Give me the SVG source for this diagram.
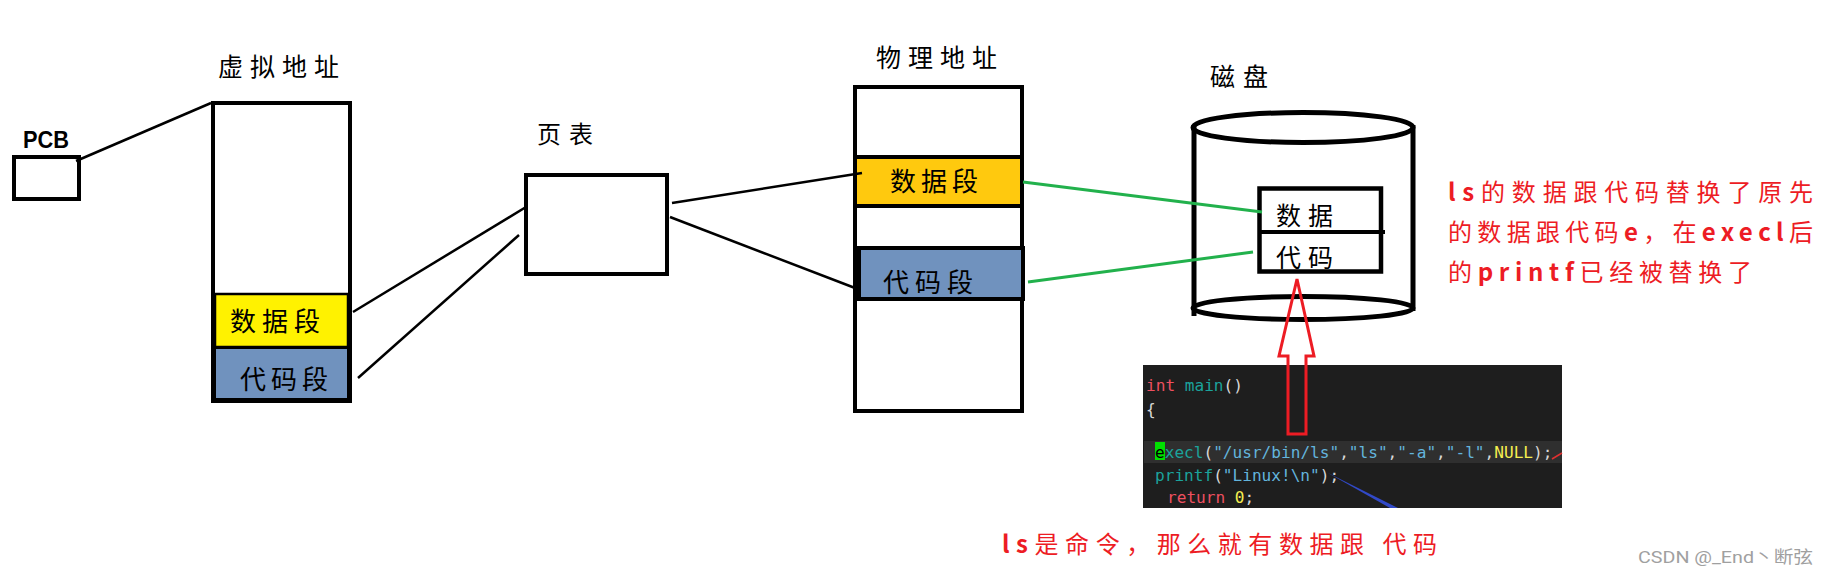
<svg xmlns="http://www.w3.org/2000/svg" width="1828" height="575" viewBox="0 0 1828 575">
<style>
.box{fill:#fff;stroke:#000;stroke-width:4}
.lbl{font-family:"Noto Sans CJK SC","Noto Sans CJK JP",sans-serif;font-size:25px;fill:#000}
.conn{stroke:#000;stroke-width:2.5;fill:none}
.green{stroke:#22B14C;stroke-width:3;fill:none}
.red{font-family:"Noto Sans CJK SC","Noto Sans CJK JP",sans-serif;font-size:24px;fill:#ED1C24}
.code{font-family:"DejaVu Sans Mono",monospace;font-size:16.1px;fill:#D8D8D8}
.kw{fill:#EE5060}.fn{fill:#1BA39C}.str{fill:#63B4DC}.num{fill:#F5EE50}
</style>
<rect width="1828" height="575" fill="#fff"/>

<g id="pcb">
<text x="23" y="148" style="font-family:'Liberation Sans',sans-serif;font-weight:bold;font-size:24px" textLength="46" lengthAdjust="spacingAndGlyphs">PCB</text>
<rect class="box" x="14" y="157" width="65" height="42"/>
</g>

<g id="virtual">
<text class="lbl" x="218" y="76" letter-spacing="7">虚拟地址</text>
<rect class="box" x="213" y="103" width="137" height="298"/>
<rect x="215" y="294" width="133" height="53" fill="#FFF200" stroke="#000" stroke-width="2.5"/>
<rect x="215" y="348" width="133" height="51" fill="#7092BE" stroke="#000" stroke-width="2"/>
<rect x="213" y="103" width="137" height="298" fill="none" stroke="#000" stroke-width="4"/>
<text class="lbl" x="230" y="331" style="font-size:26px" letter-spacing="6">数据段</text>
<text class="lbl" x="240" y="389" style="font-size:26px" letter-spacing="5">代码段</text>
</g>

<g id="pagetable">
<text class="lbl" x="537" y="143" style="font-size:24px" letter-spacing="8">页表</text>
<rect class="box" x="526" y="175" width="141" height="99"/>
</g>

<g id="physical">
<text class="lbl" x="876" y="67" letter-spacing="7">物理地址</text>
<rect class="box" x="855" y="87" width="167" height="324"/>
<rect x="855" y="157" width="167" height="49" fill="#FFC90E" stroke="#000" stroke-width="4"/>
<rect x="859" y="248" width="164" height="51" fill="#7092BE" stroke="#000" stroke-width="4"/>
<text class="lbl" x="890" y="191" style="font-size:26px" letter-spacing="5">数据段</text>
<text class="lbl" x="883" y="292" style="font-size:26px" letter-spacing="6">代码段</text>
</g>

<g id="disk">
<text class="lbl" x="1210" y="86" letter-spacing="8">磁盘</text>
<g fill="none" stroke="#000" stroke-width="5">
<ellipse cx="1303" cy="127.5" rx="110" ry="15"/>
<line x1="1194" y1="125" x2="1194" y2="316"/>
<line x1="1413" y1="125" x2="1413" y2="311"/>
<ellipse cx="1303" cy="308" rx="110" ry="11.5"/>
</g>
<rect x="1259.5" y="188.5" width="121.5" height="83" fill="#fff" stroke="#000" stroke-width="4.5"/>
<line x1="1259" y1="232" x2="1385" y2="232" stroke="#000" stroke-width="4"/>
<text class="lbl" x="1276" y="225" letter-spacing="7">数据</text>
<text class="lbl" x="1276" y="267" letter-spacing="7">代码</text>
</g>

<g id="connectors">
<line class="conn" x1="76" y1="161" x2="211" y2="103"/>
<line class="conn" x1="353" y1="312" x2="526" y2="207"/>
<line class="conn" x1="358" y1="378" x2="519" y2="235"/>
<line class="conn" x1="672" y1="203" x2="862" y2="173"/>
<line class="conn" x1="670" y1="217" x2="855" y2="288"/>
<line class="green" x1="1023" y1="182" x2="1262" y2="212"/>
<line class="green" x1="1028" y1="282" x2="1253" y2="252"/>
</g>

<g id="code">
<rect x="1143" y="365" width="419" height="143" fill="#1E1E1E"/>
<rect x="1144" y="441" width="418" height="22" fill="#2F2F2F"/>
<rect x="1155" y="442" width="10" height="18" fill="#00E000"/>
<text class="code" x="1146" y="391"><tspan class="kw">int</tspan> <tspan class="fn">main</tspan>()</text>
<text class="code" x="1146" y="415">{</text>
<text class="code" x="1155" y="458"><tspan style="fill:#000">e</tspan><tspan class="fn">xecl</tspan>(<tspan class="str">"/usr/bin/ls"</tspan>,<tspan class="str">"ls"</tspan>,<tspan class="str">"-a"</tspan>,<tspan class="str">"-l"</tspan>,<tspan class="num">NULL</tspan>);</text>
<text class="code" x="1155" y="481"><tspan class="fn">printf</tspan>(<tspan class="str">"Linux!\n"</tspan>);</text>
<text class="code" x="1167" y="503"><tspan class="kw">return</tspan> <tspan class="num">0</tspan>;</text>
<line x1="1552" y1="459" x2="1562" y2="453" stroke="#E03030" stroke-width="1.5"/>
<polygon points="1327,472.5 1329,473.5 1398,508 1390,508" fill="#3149C8"/>
</g>

<g id="arrow">
<polygon points="1297,279 1314,356 1306,356 1306,434 1288,434 1288,356 1279,356" fill="none" stroke="#ED1C24" stroke-width="3" stroke-linejoin="miter"/>
</g>

<g id="notes">
<text class="red" x="1448" y="201" textLength="365" lengthAdjust="spacing"><tspan font-weight="bold">ls</tspan>的数据跟代码替换了原先</text>
<text class="red" x="1448" y="241" textLength="365" lengthAdjust="spacing">的数据跟代码<tspan font-weight="bold">e</tspan>，在<tspan font-weight="bold">execl</tspan>后</text>
<text class="red" x="1448" y="281" textLength="304" lengthAdjust="spacing">的<tspan font-weight="bold">printf</tspan>已经被替换了</text>
<text class="red" x="1002" y="553" textLength="435" lengthAdjust="spacing"><tspan font-weight="bold">ls</tspan>是命令，那么就有数据跟 代码</text>
<text x="1638" y="563" style="font-family:Roboto,'Noto Sans CJK SC',sans-serif;font-size:17px;fill:#A0A0A0" textLength="175" lengthAdjust="spacingAndGlyphs">CSDN @_End丶断弦</text>
</g>
</svg>
